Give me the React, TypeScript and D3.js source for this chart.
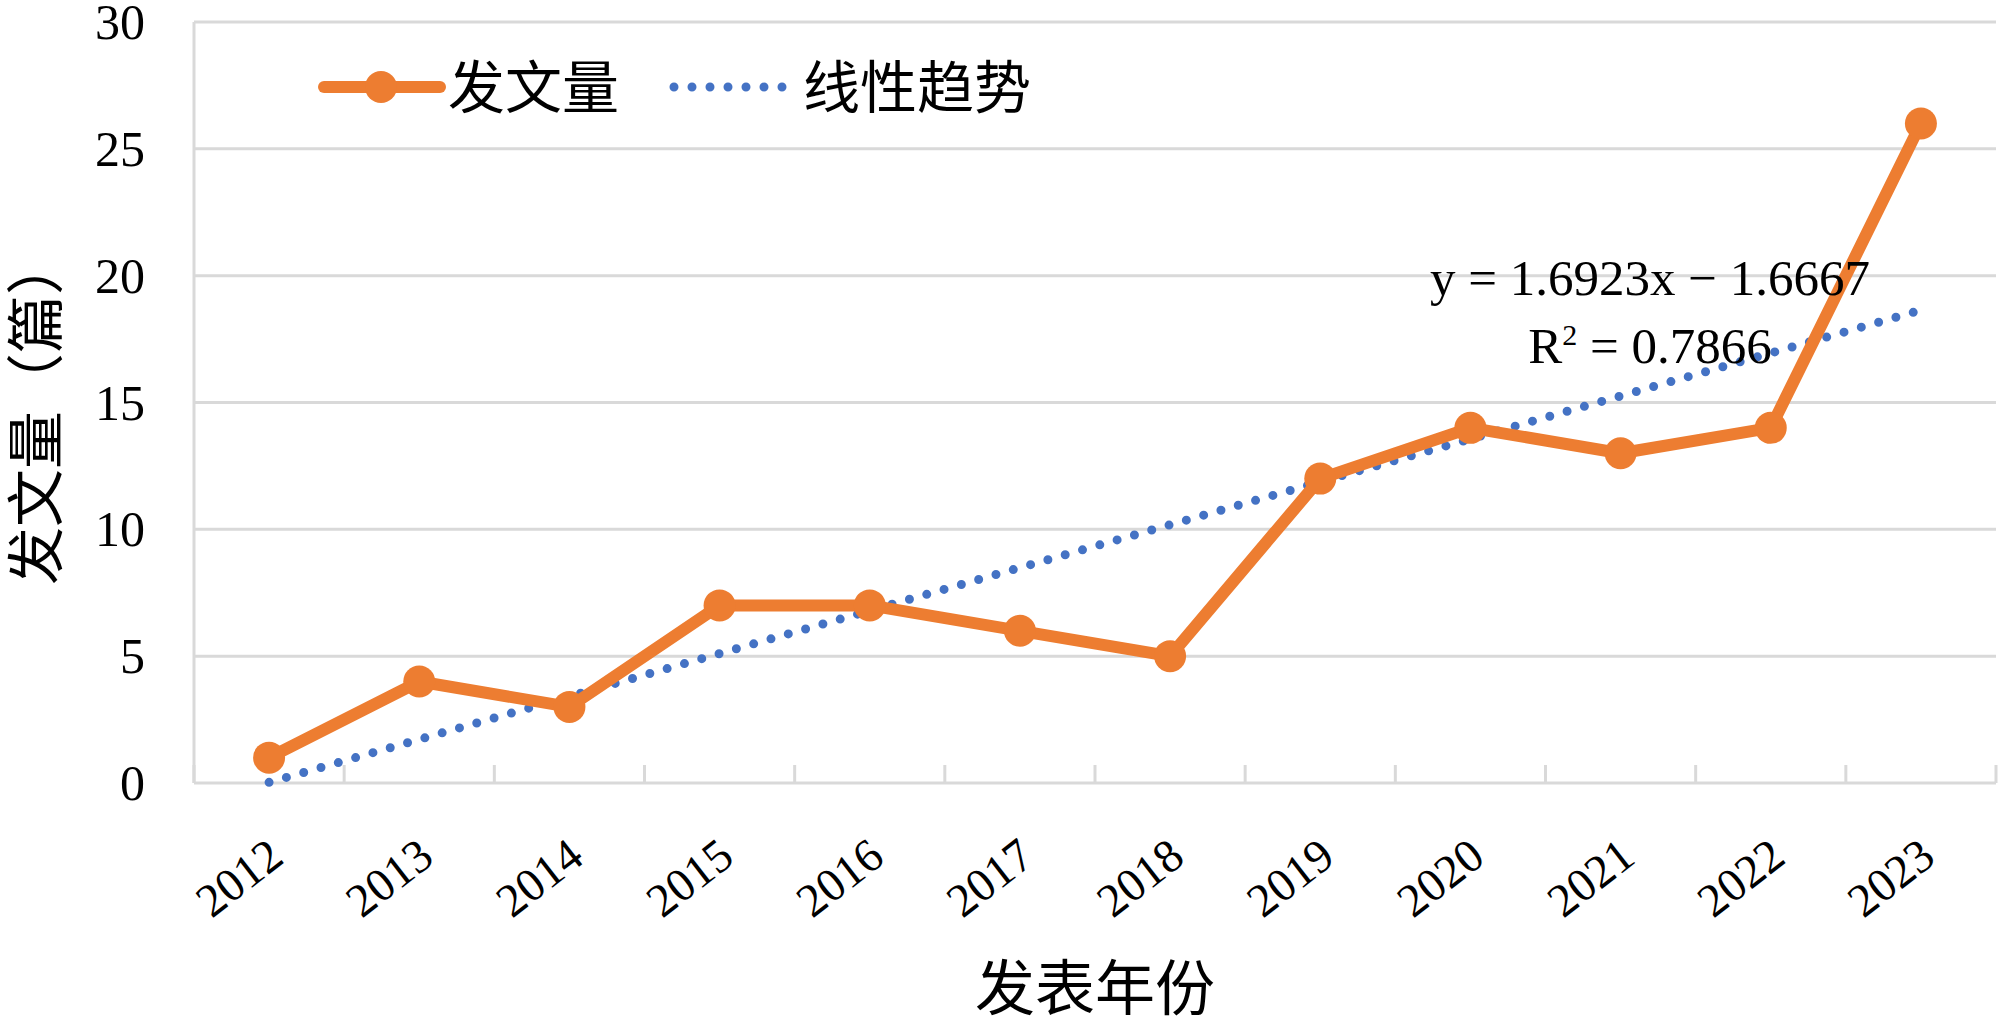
import React from "react";
import * as d3 from "d3";

const years = ["2012", "2013", "2014", "2015", "2016", "2017", "2018", "2019", "2020", "2021", "2022", "2023"];
const counts = [1, 4, 3, 7, 7, 6, 5, 12, 14, 13, 14, 26];
const yTicks = [0, 5, 10, 15, 20, 25, 30];
const seriesName = "发文量";
const trendName = "线性趋势";
const xTitle = "发表年份";
const yTitle = "发文量（篇）";
const eqLine1 = "y = 1.6923x − 1.6667";
const r2Value = "0.7866";

const W = 2000;
const H = 1021;
const M = { left: 194, right: 1996, top: 22, bottom: 783 };
const ORANGE = "#ED7D31";
const BLUE = "#4472C4";
const GRID = "#d9d9d9";
const SERIF = "'Liberation Serif', 'Times New Roman', serif";
const CJK = "'Noto Sans CJK SC', 'Noto Sans', sans-serif";

export default function App() {
  const x = d3.scaleBand<string>().domain(years).range([M.left, M.right]).padding(0);
  const y = d3.scaleLinear().domain([0, 30]).range([M.bottom, M.top]);
  const cx = (yr: string) => (x(yr) as number) + x.bandwidth() / 2;

  // least-squares trend line computed from the data (x = 1..n)
  const n = counts.length;
  const xs = counts.map((_, i) => i + 1);
  const mx = d3.mean(xs) as number;
  const my = d3.mean(counts) as number;
  const slope = d3.sum(xs.map((xi, i) => (xi - mx) * (counts[i] - my))) / d3.sum(xs.map((xi) => (xi - mx) ** 2));
  const intercept = my - slope * mx;
  const trendPts = [years[0], years[n - 1]].map((yr, k) => [cx(yr), y(slope * (k === 0 ? 1 : n) + intercept)] as [number, number]);

  const line = d3.line<number>().x((_, i) => cx(years[i])).y((d) => y(d));

  const tickXs = d3.range(years.length + 1).map((i) => M.left + i * x.bandwidth());

  return (
    <svg width={W} height={H} style={{ position: "absolute", left: 0, top: 0, background: "#fff" }}>
      <rect x={0} y={0} width={W} height={H} fill="#fff" />
      {/* gridlines */}
      {yTicks.map((t) => (
        <line key={t} x1={M.left} x2={M.right} y1={y(t)} y2={y(t)} stroke={GRID} strokeWidth={3} />
      ))}
      {/* left border */}
      <line x1={M.left} x2={M.left} y1={M.top} y2={M.bottom} stroke={GRID} strokeWidth={3} />
      {/* category ticks */}
      {tickXs.map((tx, i) => (
        <line key={i} x1={tx} x2={tx} y1={M.bottom} y2={M.bottom - 18} stroke={GRID} strokeWidth={3} />
      ))}
      {/* y tick labels */}
      {yTicks.map((t) => (
        <text key={t} x={145} y={y(t)} dy="0.34em" textAnchor="end" fontFamily={SERIF} fontSize={50} fill="#000">
          {t}
        </text>
      ))}
      {/* x tick labels */}
      {years.map((yr) => (
        <text
          key={yr}
          transform={`translate(${cx(yr) - 3},${M.bottom + 53}) rotate(-38)`}
          textAnchor="end"
          dy="0.68em"
          fontFamily={SERIF}
          fontSize={47}
          fill="#000"
        >
          {yr}
        </text>
      ))}
      {/* trend line */}
      <line
        x1={trendPts[0][0]}
        y1={trendPts[0][1]}
        x2={trendPts[1][0]}
        y2={trendPts[1][1]}
        stroke={BLUE}
        strokeWidth={9}
        strokeLinecap="round"
        strokeDasharray="0 18"
      />
      {/* series line */}
      <path d={line(counts) as string} fill="none" stroke={ORANGE} strokeWidth={12} strokeLinejoin="round" />
      {counts.map((c, i) => (
        <circle key={i} cx={cx(years[i])} cy={y(c)} r={16} fill={ORANGE} />
      ))}
      {/* equation */}
      <text x={1650} y={295} textAnchor="middle" fontFamily={SERIF} fontSize={51} fill="#000">
        {eqLine1}
      </text>
      <text x={1650} y={363} textAnchor="middle" fontFamily={SERIF} fontSize={51} fill="#000">
        R<tspan dy={-18} fontSize={30}>2</tspan>
        <tspan dy={18}> = {r2Value}</tspan>
      </text>
      {/* legend */}
      <line x1={324} x2={440} y1={87} y2={87} stroke={ORANGE} strokeWidth={12} strokeLinecap="round" />
      <circle cx={381} cy={87} r={16} fill={ORANGE} />
      <text x={448} y={87} dy="0.36em" fontFamily={CJK} fontSize={57} fill="#000">
        {seriesName}
      </text>
      <line x1={674} x2={790} y1={87} y2={87} stroke={BLUE} strokeWidth={9} strokeLinecap="round" strokeDasharray="0 18" />
      <text x={803} y={87} dy="0.36em" fontFamily={CJK} fontSize={57} fill="#000">
        {trendName}
      </text>
      {/* axis titles */}
      <text x={1095} y={1010} textAnchor="middle" fontFamily={CJK} fontSize={60} fill="#000">
        {xTitle}
      </text>
      <text transform={`translate(57,411) rotate(-90)`} textAnchor="middle" fontFamily={CJK} fontSize={58} fill="#000">
        {yTitle}
      </text>
    </svg>
  );
}
